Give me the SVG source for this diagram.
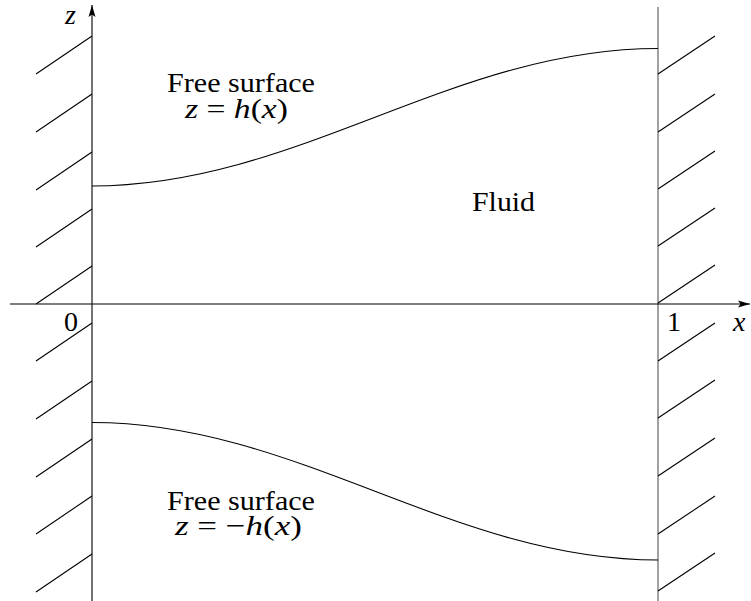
<svg xmlns="http://www.w3.org/2000/svg" width="751" height="601" viewBox="0 0 751 601">
<style>
.ln{fill:none;stroke:#000;stroke-width:1.1}
.wall{fill:none;stroke:#7a7a7a;stroke-width:1.4}
text{font-family:'Liberation Serif',serif;font-size:28px;fill:#000}
.it{font-style:italic}
</style>
<defs>
<marker id="arr" markerUnits="userSpaceOnUse" viewBox="0 -4 13 8" markerWidth="13" markerHeight="8" refX="12" refY="0" orient="auto">
<path d="M0,-3.5 L12,0 L0,3.5 L2.5,0 z" fill="#000"/>
</marker>
</defs>
<rect width="751" height="601" fill="#fff"/>
<g id="left-wall">
<path class="ln" d="M92,36 L36,74 M92,94 L36,132 M92,152 L36,190 M92,209 L36,247 M92,266 L36,304 M92,323 L36,361 M92,381 L36,419 M92,439 L36,477 M92,496 L36,534 M92,554 L36,592"/>
</g>
<g id="right-wall">
<line class="wall" x1="658" y1="7" x2="658" y2="601"/>
<path class="ln" d="M658,74 L715,36 M658,132 L715,94 M658,189 L715,151 M658,246 L715,208 M658,303 L715,265 M658,361 L715,323 M658,418 L715,380 M658,476 L715,438 M658,534 L715,496 M658,591 L715,553"/>
</g>
<g id="connectors">
<line class="ln" x1="10" y1="304" x2="750" y2="304" marker-end="url(#arr)"/>
<line class="ln" x1="92" y1="601" x2="92" y2="5" marker-end="url(#arr)"/>
</g>
<g id="upper-surface">
<path class="ln" d="M92,186 C298,186 452,48.5 658,48.5"/>
</g>
<g id="lower-surface">
<path class="ln" d="M92,422.5 C298,422.5 452,560 658,560"/>
</g>
<g id="labels">
<text font-family="Liberation Serif" class="it" x="65" y="24">z</text>
<text font-family="Liberation Serif" x="64" y="331">0</text>
<text font-family="Liberation Serif" x="667" y="331">1</text>
<text font-family="Liberation Serif" class="it" x="733" y="331">x</text>
<text font-family="Liberation Serif" x="472" y="211" textLength="63" lengthAdjust="spacingAndGlyphs">Fluid</text>
</g>
<g id="upper-label">
<text font-family="Liberation Serif" x="167" y="91.5" textLength="148" lengthAdjust="spacingAndGlyphs">Free surface</text>
<text font-family="Liberation Serif" x="185" y="118" textLength="103" lengthAdjust="spacingAndGlyphs"><tspan font-style="italic">z</tspan> = <tspan font-style="italic">h</tspan>(<tspan font-style="italic">x</tspan>)</text>
</g>
<g id="lower-label">
<text font-family="Liberation Serif" x="167" y="510" textLength="148" lengthAdjust="spacingAndGlyphs">Free surface</text>
<text font-family="Liberation Serif" x="175" y="535" textLength="127" lengthAdjust="spacingAndGlyphs"><tspan font-style="italic">z</tspan> = −<tspan font-style="italic">h</tspan>(<tspan font-style="italic">x</tspan>)</text>
</g>
</svg>
